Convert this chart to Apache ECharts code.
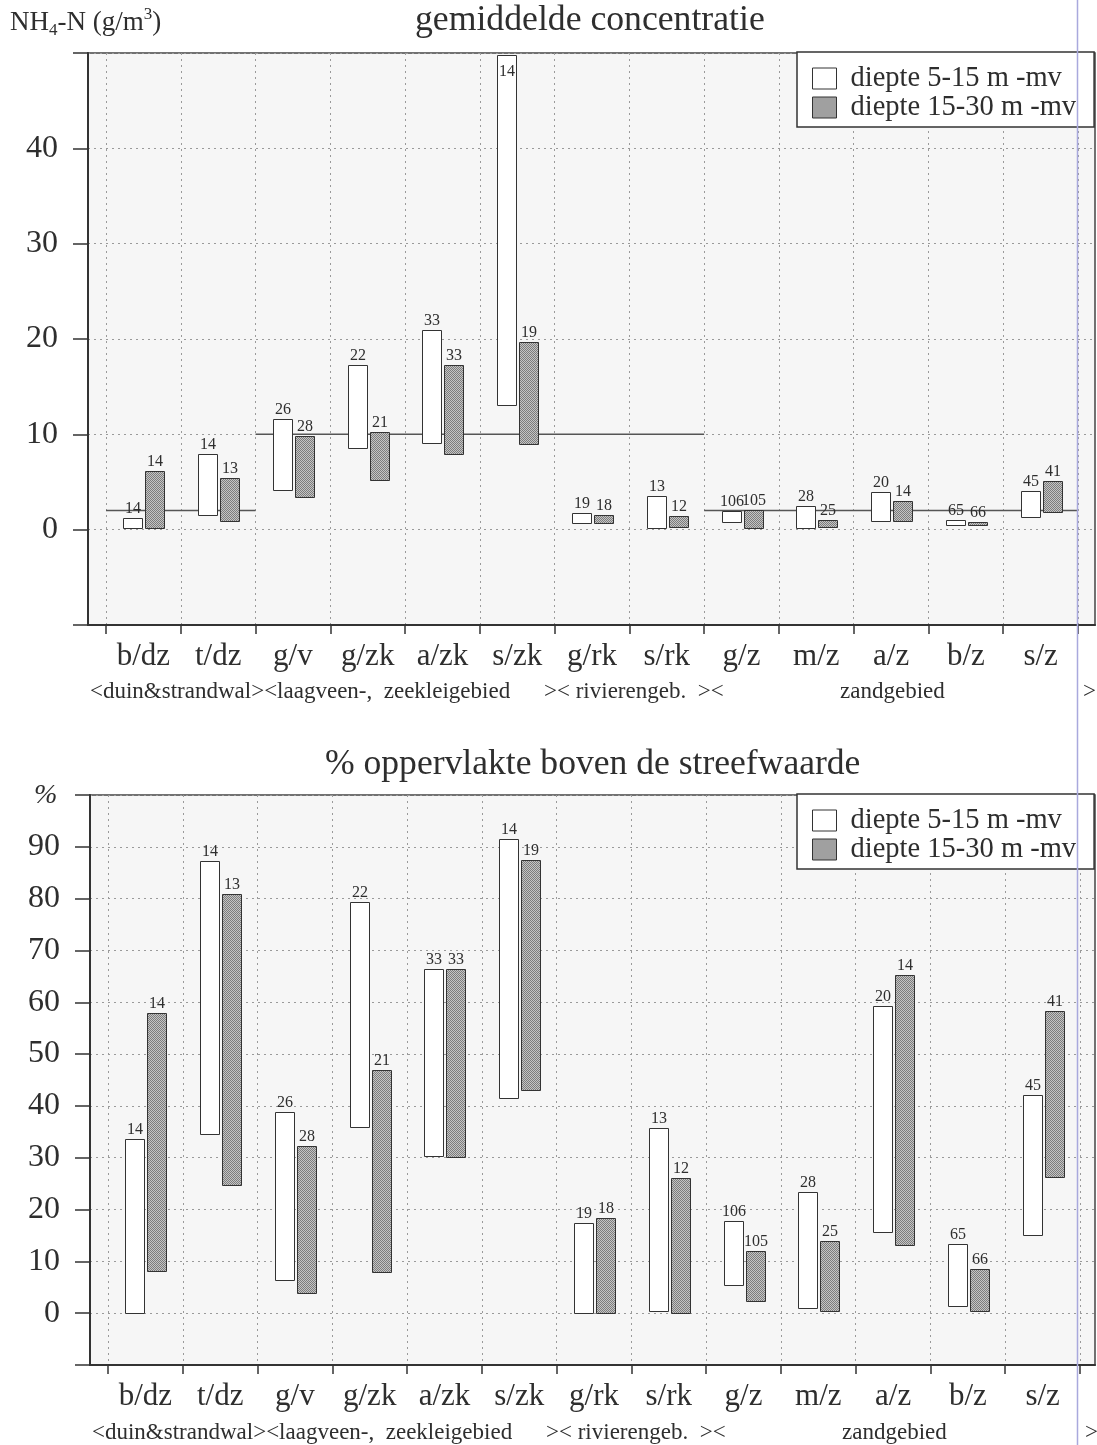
<!DOCTYPE html>
<html>
<head>
<meta charset="utf-8">
<script src="https://cdn.jsdelivr.net/npm/echarts@6/dist/echarts.min.js"></script>
<style>
  html, body { margin: 0; padding: 0; background: #fff; }
  #chart { width: 1097px; height: 1445px; }
</style>
</head>
<body>
<div id="chart"></div>
<script>
// Landbouw-/bodemgebieden (categorie-codes)
const categories = ['b/dz', 't/dz', 'g/v', 'g/zk', 'a/zk', 's/zk', 'g/rk', 's/rk', 'g/z', 'm/z', 'a/z', 'b/z', 's/z'];

// aantal waarnemingen per categorie
const countShallow = [14, 14, 26, 22, 33, 14, 19, 13, 106, 28, 20, 65, 45];
const countDeep    = [14, 13, 28, 21, 33, 19, 18, 12, 105, 25, 14, 66, 41];

// NH4-N (g/m3): bereik per categorie
const concShallowLow  = [0.1, 1.5, 4.2, 8.6, 9.0, 13.1, 0.7, 0.1, 0.8, 0.2, 0.9, 0.5, 1.4];
const concShallowHigh = [1.2, 7.9, 11.6, 17.3, 20.9, 49.8, 1.8, 3.5, 2.0, 2.5, 3.9, 1.0, 4.1];
const concDeepLow     = [0.2, 0.9, 3.4, 5.2, 8.0, 9.0, 0.7, 0.2, 0.2, 0.3, 0.9, 0.5, 1.8];
const concDeepHigh    = [6.2, 5.4, 9.8, 10.2, 17.3, 19.7, 1.5, 1.4, 2.1, 1.0, 3.0, 0.8, 5.1];

// % oppervlakte boven de streefwaarde: bereik per categorie
const pctShallowLow  = [0.1, 34.7, 6.4, 35.8, 30.3, 41.6, 0.1, 0.4, 5.5, 1.0, 15.7, 1.4, 15.1];
const pctShallowHigh = [33.6, 87.3, 38.9, 79.3, 66.4, 91.6, 17.4, 35.7, 17.8, 23.4, 59.3, 13.3, 42.1];
const pctDeepLow     = [8.2, 24.6, 3.8, 8.0, 30.3, 43.2, 0.1, 0.1, 2.3, 0.3, 13.1, 0.4, 26.3];
const pctDeepHigh    = [58.0, 80.8, 32.2, 46.9, 66.5, 87.5, 18.4, 26.1, 12.0, 13.9, 65.3, 8.6, 58.3];

// streefwaarde per gebied (van categorie-index t/m categorie-index)
const targetStart = [0, 2, 8];
const targetEnd   = [1, 7, 12];
const targetValue = [2, 10, 2];

// as-labels
const concTicks = [0, 10, 20, 30, 40];
const pctTicks  = [0, 10, 20, 30, 40, 50, 60, 70, 80, 90];

// gebiedsaanduidingen onder de as
const regionTexts = ['<duin&strandwal><laagveen-,  zeekleigebied', '>< rivierengeb.  ><', 'zandgebied', '>'];

const seriesNames = ['diepte 5-15 m -mv', 'diepte 15-30 m -mv'];

const FONT = '"Liberation Serif", "Times New Roman", serif';
const INK = '#2e2e2e';

// gespikkeld grijs vulpatroon
function stipple() {
  const c = document.createElement('canvas');
  c.width = 2; c.height = 2;
  const g = c.getContext('2d');
  g.fillStyle = '#c4c4c4'; g.fillRect(0, 0, 2, 2);
  g.fillStyle = '#7c7c7c'; g.fillRect(0, 0, 1, 1); g.fillRect(1, 1, 1, 1);
  return { image: c, repeat: 'repeat' };
}
const grayFill = stipple();

function rangeBars(name, lows, highs, counts, fill, side, axisIdx) {
  return {
    type: 'custom', name, silent: true, z: 3,
    xAxisIndex: axisIdx, yAxisIndex: axisIdx,
    itemStyle: { color: fill, borderColor: '#333', borderWidth: 1 },
    data: categories.map((c, i) => [i, lows[i], highs[i], counts[i]]),
    encode: { x: 0, y: [1, 2] },
    renderItem(params, api) {
      const i = api.value(0);
      const lo = api.coord([i, api.value(1)]);
      const hi = api.coord([i, api.value(2)]);
      const w = 19;
      const x0 = Math.round(lo[0] + (side < 0 ? -20 : 2)) + 0.5;
      const top = Math.round(hi[1]) + 0.5;
      const h = Math.max(Math.round(lo[1] - hi[1]), 2);
      const inside = top - 20 < params.coordSys.y;
      return {
        type: 'group',
        children: [
          { type: 'rect', shape: { x: x0, y: top, width: w, height: h },
            style: { fill, stroke: '#333', lineWidth: 1 } },
          { type: 'text', x: x0 + w / 2, y: inside ? top + 8 : top - 2,
            style: { text: String(api.value(3)), align: 'center',
              verticalAlign: inside ? 'top' : 'bottom',
              font: '16px ' + FONT, fill: INK } }
        ]
      };
    }
  };
}

function targetLines(axisIdx) {
  return {
    type: 'custom', silent: true, z: 2,
    xAxisIndex: axisIdx, yAxisIndex: axisIdx,
    data: targetValue.map((v, k) => [targetStart[k], targetEnd[k], v]),
    encode: { x: [0, 1], y: 2 },
    renderItem(params, api) {
      const a = api.coord([api.value(0), api.value(2)]);
      const b = api.coord([api.value(1), api.value(2)]);
      const half = api.size([1, 0])[0] / 2;
      return { type: 'line',
        shape: { x1: a[0] - half, y1: a[1], x2: b[0] + half, y2: b[1] },
        style: { stroke: '#555', lineWidth: 1.5 } };
    }
  };
}

const dotted = { color: '#9a9a9a', width: 1, type: [2, 4] };

function frameAxes(min, max, ticks) {
  return {
    x: { type: 'value', min: 0, max: 1, axisLine: { show: true, onZero: false, lineStyle: { color: '#333', width: 2 } },
         axisTick: { show: false }, axisLabel: { show: false }, splitLine: { show: false } },
    y: { type: 'value', min, max, interval: 10,
         axisLine: { show: true, onZero: false, lineStyle: { color: '#333', width: 2 } },
         axisTick: { show: true, length: 15, lineStyle: { color: '#333', width: 1.5 } },
         axisLabel: { fontFamily: FONT, fontSize: 32, color: INK, margin: 30,
                      formatter: v => ticks.includes(v) ? String(v) : '' },
         splitLine: { show: true, lineStyle: dotted } }
  };
}

function catAxes(min, max) {
  return {
    x: { type: 'category', data: categories, boundaryGap: true,
         axisLine: { show: false, onZero: false },
         axisTick: { show: true, length: 9, lineStyle: { color: '#333', width: 1.5 } },
         axisLabel: { interval: 0, fontFamily: FONT, fontSize: 31, color: INK, margin: 16 },
         splitLine: { show: true, lineStyle: dotted } },
    y: { type: 'value', min, max, show: false, splitLine: { show: false } }
  };
}

const fA = frameAxes(-10, 50, concTicks), cB = catAxes(-10, 50);
const fC = frameAxes(-10, 100, pctTicks), cD = catAxes(-10, 100);
fA.x.gridIndex = 0; fA.y.gridIndex = 0;
cB.x.gridIndex = 1; cB.y.gridIndex = 1;
fC.x.gridIndex = 2; fC.y.gridIndex = 2;
cD.x.gridIndex = 3; cD.y.gridIndex = 3;

function legendFor(top) {
  return {
    left: 797, top, orient: 'vertical', selectedMode: false,
    padding: [12, 18, 5, 15], itemGap: 0, itemWidth: 24, itemHeight: 21,
    backgroundColor: '#fff', borderColor: '#333', borderWidth: 1.5,
    textStyle: { fontFamily: FONT, fontSize: 28.5, color: INK, padding: [0, 0, 0, 9] },
    data: [
      { name: seriesNames[0], icon: 'rect', itemStyle: { color: '#fff', borderColor: '#333', borderWidth: 1 } },
      { name: seriesNames[1], icon: 'rect', itemStyle: { color: grayFill, borderColor: '#333', borderWidth: 1 } }
    ]
  };
}

function regionLabels(y, dx) {
  const xs = [90, 544, 840, 1083];
  return regionTexts.map((t, k) => ({
    type: 'text', x: xs[k] + dx, y,
    style: { text: t, font: '23px ' + FONT, fill: INK, verticalAlign: 'middle' }
  }));
}

const chart = echarts.init(document.getElementById('chart'), null, { renderer: 'canvas' });
chart.setOption({
  animation: false,
  backgroundColor: '#fff',
  title: [
    { text: 'gemiddelde concentratie', left: 415, top: 3, padding: 0,
      textStyle: { fontFamily: FONT, fontSize: 35.7, fontWeight: 'normal', color: INK } },
    { text: '% oppervlakte boven de streefwaarde', left: 325, top: 747, padding: 0,
      textStyle: { fontFamily: FONT, fontSize: 35.6, fontWeight: 'normal', color: INK } }
  ],
  legend: [legendFor(52), legendFor(794)],
  grid: [
    { left: 88, right: 2, top: 53, height: 572, show: true, borderColor: '#444', borderWidth: 1.5, backgroundColor: '#f6f6f6' },
    { left: 106, right: 19, top: 53, height: 572 },
    { left: 90, right: 2, top: 795, height: 570, show: true, borderColor: '#444', borderWidth: 1.5, backgroundColor: '#f6f6f6' },
    { left: 108, right: 17, top: 795, height: 570 }
  ],
  xAxis: [fA.x, cB.x, fC.x, cD.x],
  yAxis: [fA.y, cB.y, fC.y, cD.y],
  series: [
    targetLines(1),
    rangeBars(seriesNames[0], concShallowLow, concShallowHigh, countShallow, '#fff', -1, 1),
    rangeBars(seriesNames[1], concDeepLow, concDeepHigh, countDeep, grayFill, 1, 1),
    rangeBars(seriesNames[0], pctShallowLow, pctShallowHigh, countShallow, '#fff', -1, 3),
    rangeBars(seriesNames[1], pctDeepLow, pctDeepHigh, countDeep, grayFill, 1, 3)
  ],
  graphic: [
    { type: 'text', x: 10, y: 23, style: {
        text: 'NH{sub|4}-N (g/m{sup|3})',
        font: '27px ' + FONT, fill: INK, verticalAlign: 'middle',
        rich: {
          sub: { fontFamily: FONT, fontSize: 17, fill: INK, verticalAlign: 'bottom', lineHeight: 33 },
          sup: { fontFamily: FONT, fontSize: 17, fill: INK, verticalAlign: 'top', lineHeight: 33 }
        } } },
    { type: 'text', x: 34, y: 796, style: { text: '%', font: 'italic 28px ' + FONT, fill: INK, verticalAlign: 'middle' } },
    ...regionLabels(692, 0),
    ...regionLabels(1433, 2),
    { type: 'line', z: 100, shape: { x1: 1077.5, y1: 0, x2: 1077.5, y2: 1445 },
      style: { stroke: '#a9a9dd', lineWidth: 1.5 } }
  ]
});
</script>
</body>
</html>
